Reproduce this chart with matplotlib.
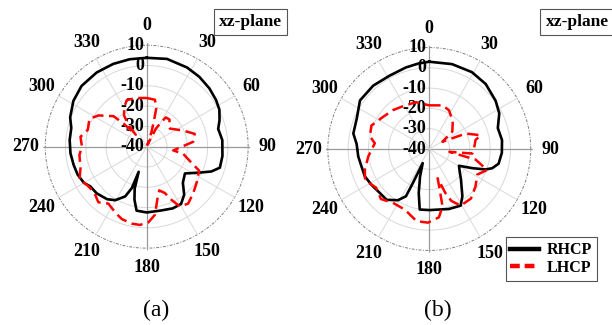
import numpy as np
import matplotlib.pyplot as plt
from matplotlib.lines import Line2D

# measured patterns (angle in degrees, gain in dB)
ang_rhcp_a = [0, 13, 27, 37, 47, 56, 63, 70, 76, 85, 97, 106, 111, 116, 125, 135, 142, 149,
              157, 168, 180, 189, 193, 196, 197.7, 199.8, 203.4, 210.5, 217, 227, 235, 240,
              248, 256, 265, 275, 284, 291, 302, 313, 326, 338, 349]
rhcp_a = [3.8, 4.4, 3.8, 3.1, 2.2, 1.2, 0.2, -1.8, -3.7, -2.6, -2.4, -2.5, -5.9, -10.9, -17,
          -14.8, -10, -7.1, -7, -7.8, -7.6, -8.1, -13.2, -18.5, -27, -18.3, -13.3, -9.4, -7.6,
          -6.3, -6, -4.3, -3.3, -2.9, -2.3, -1.9, -1.7, 0.4, 2.6, 3.9, 4.1, 4, 3.9]

ang_lhcp_a = [0, 10, 14, 15.5, 18, 22, 27, 30, 33, 40, 48, 52, 66, 75, 84, 98, 101, 111, 114.5,
              125, 135, 144, 151, 155, 158.6, 164, 168.7, 173, 178.7, 185, 191, 199, 205, 214,
              221, 229, 237, 244, 252, 263, 270, 278.5, 286, 296, 303, 312.6, 315, 317.5, 320,
              324, 330.5, 337, 348.5]
lhcp_a = [-16, -16.5, -20.6, -26.4, -32.3, -39, -30, -26.8, -22.8, -22.5, -25, -25.5, -20.4,
          -15.5, -17, -26.8, -21.7, -15.5, -11.6, -9.8, -7.6, -5.3, -6.3, -11.1, -15.5, -17.6,
          -13.4, -6.3, -2.7, -1.3, -1.4, -2.3, -3.9, -6.2, -3.7, -5.7, -5.1, -3.2, -5.7, -6.6,
          -8.1, -7, -9.8, -8.6, -11.7, -17.8, -24, -32, -26, -21, -17.5, -15, -15.5]

ang_rhcp_b = [0, 15, 29, 41, 54, 63, 73, 83, 93, 102, 107, 110, 114, 119.5, 128, 134, 145,
              151, 162, 180, 189, 193.5, 198.6, 205, 205.8, 206.3, 211.5, 220, 230, 238, 247,
              255.5, 264, 274, 281.5, 293, 305, 318.5, 331.6, 344, 353]
rhcp_b = [3, 3.3, 3.3, 2.4, 0.4, -1.3, -4.7, -3.9, -4.2, -5.1, -7.6, -10.5, -16.8, -23.2,
          -20.9, -18.3, -11.6, -8.1, -8.9, -9.9, -9.8, -17.7, -25.7, -32.3, -21, -14, -10.4,
          -7.3, -7.3, -6.5, -5.5, -5.5, -4.8, -4.1, -1.8, -1.2, 1.7, 1.7, 1.1, 1.8, 2.5]

ang_lhcp_b = [0, 17, 27, 40, 53, 61, 67, 75, 79, 90, 96, 98, 103, 110, 118, 129, 140, 151, 157,
              160, 164, 167, 172, 181, 190, 202, 214, 224, 234, 244, 252, 263, 276, 282, 292,
              305, 317, 328, 344]
lhcp_b = [-18.5, -17.5, -18.6, -22, -25.8, -32.6, -20.5, -13.8, -16.8, -18, -18.7, -30, -16.5,
          -9.7, -13.2, -10.7, -8.1, -8.1, -12.2, -17, -25, -11, -6, -3.7, -3.9, -7.8, -8, -5.7,
          -7.6, -4.8, -6.6, -9.7, -13, -10.1, -9.2, -12.3, -13.8, -15.2, -16]

angle_ticks = list(range(0, 360, 30))
rings = [-30, -20, -10, 0]
radial_ticks = [-40, -30, -20, -10, 0, 10]

RMIN, RMAX = -40, 11
W, H = 612, 325
R_PX = 103.5  # polar axes radius in pixels

bold = dict(family='Liberation Serif', weight='bold')


def closed(ang, val):
    t = np.deg2rad(list(ang) + [ang[0] + 360])
    return t, list(val) + [val[0]]


def polar_panel(fig, cx, cy, ang_r, r_val, ang_l, l_val):
    ax = fig.add_axes([(cx - R_PX) / W, (H - cy - R_PX) / H, 2 * R_PX / W, 2 * R_PX / H],
                      projection='polar')
    ax.set_theta_zero_location('N')
    ax.set_theta_direction(-1)
    ax.set_ylim(RMIN, RMAX)
    ax.grid(False)
    ax.set_xticks([])
    ax.set_yticks([])
    ax.spines['polar'].set_visible(False)
    ax.patch.set_alpha(0)

    full = np.linspace(0, 2 * np.pi, 361)
    for r in rings:
        ax.plot(full, np.full_like(full, r), color='#d9d9d9', lw=0.7, zorder=1)
    ax.plot(full, np.full_like(full, 10), color='#7f7f7f', lw=0.7,
            linestyle=(0, (3, 1.5, 1, 1.5)), zorder=1)
    for a in angle_ticks:
        t = np.deg2rad(a)
        if a % 90 == 0:
            ax.plot([t, t], [RMIN, RMAX], color='#9a9a9a', lw=0.9, zorder=1)
        else:
            ax.plot([t, t], [RMIN, 10], color='#d9d9d9', lw=0.7, zorder=1)
        ax.text(t, 19.5, str(a), ha='center', va='center', fontsize=13,
                clip_on=False, **bold)

    for r in radial_ticks:
        ax.annotate(str(r), xy=(0, r), xytext=(-2, 0), textcoords='offset points',
                    ha='right', va='center', fontsize=13, **bold)

    t, v = closed(ang_r, r_val)
    ax.plot(t, v, color='black', lw=1.9, zorder=3)
    t, v = closed(ang_l, l_val)
    ax.plot(t, v, color='#ff0000', lw=1.8, dashes=(4.5, 2.2), zorder=3)
    return ax


fig = plt.figure(figsize=(W / 100, H / 100), dpi=100)

polar_panel(fig, 146.7, 146.7, ang_rhcp_a, rhcp_a, ang_lhcp_a, lhcp_a)
polar_panel(fig, 429.3, 149.0, ang_rhcp_b, rhcp_b, ang_lhcp_b, lhcp_b)

box = dict(boxstyle='square,pad=0.3', facecolor='white', edgecolor='#555555', lw=0.8)
fig.text(250.5 / W, 1 - 22 / H, 'xz-plane', ha='center', va='center', fontsize=12.5,
         bbox=box, **bold)
fig.text(577 / W, 1 - 22 / H, 'xz-plane', ha='center', va='center', fontsize=12.5,
         bbox=box, **bold)

fig.text(156 / W, 1 - 310 / H, '(a)', ha='center', va='center', fontsize=17,
         family='Liberation Serif')
fig.text(438 / W, 1 - 310 / H, '(b)', ha='center', va='center', fontsize=17,
         family='Liberation Serif')

handles = [Line2D([], [], color='black', lw=3.2),
           Line2D([], [], color='#ff0000', lw=3.2, dashes=(2.2, 1.1))]
leg = fig.legend(handles, ['RHCP', 'LHCP'], loc='center',
                 bbox_to_anchor=(551.5 / W, 1 - 259 / H), prop=dict(size=11.5, **bold),
                 frameon=True, fancybox=False, edgecolor='#555555', framealpha=1,
                 handlelength=1.8, handletextpad=0.5, borderpad=0.3, labelspacing=0.1,
                 borderaxespad=0)
leg.get_frame().set_linewidth(0.8)

fig.savefig('out.png', dpi=100)
